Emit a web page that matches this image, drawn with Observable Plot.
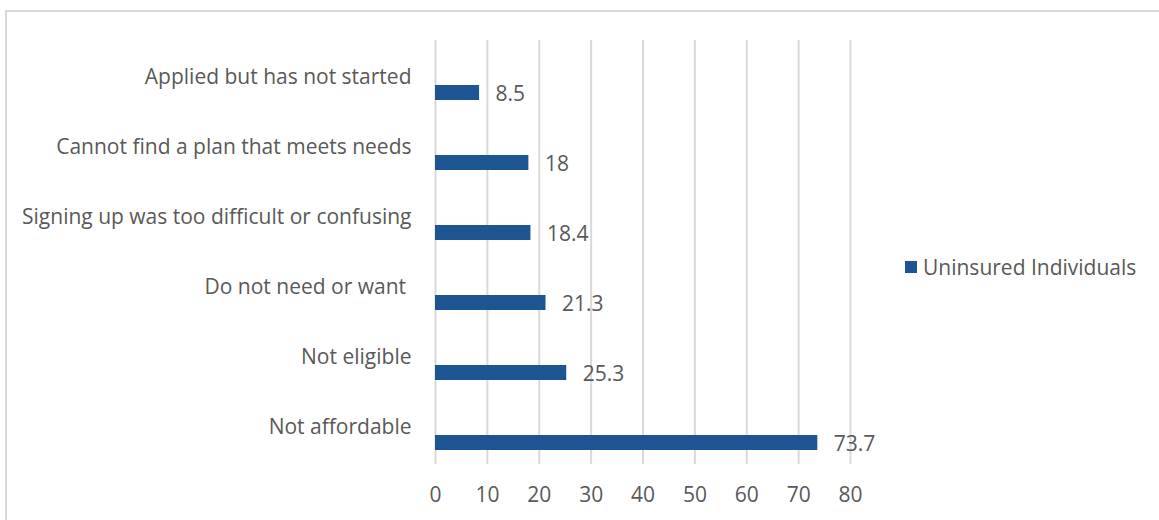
<!DOCTYPE html>
<html>
<head>
<meta charset="utf-8">
<script src="https://cdn.jsdelivr.net/npm/d3@7"></script>
<script src="https://cdn.jsdelivr.net/npm/@observablehq/plot@0.6"></script>
<style>
  html, body { margin: 0; padding: 0; background: #fff; }
  #wrap { position: relative; width: 1159px; height: 520px; overflow: hidden; }
  #frame { position: absolute; left: 5px; top: 10px; width: 1160px; height: 520px;
           border-top: 2px solid #d9d9d9; border-left: 2px solid #d9d9d9; box-sizing: border-box; }
  #chart { position: absolute; left: 0; top: 0; }
  #legend { position: absolute; left: 905px; top: 253px; display: flex; align-items: center;
            font-family: "Open Sans", sans-serif; font-size: 21px; color: #595959; }
  #legend .sw { width: 12px; height: 12px; background: #1d5492; margin-right: 6px; }
</style>
</head>
<body>
<div id="wrap">
  <div id="frame"></div>
  <div id="chart"></div>
  <div id="legend"><div class="sw"></div><span>Uninsured Individuals</span></div>
</div>
<script>
const categories = [
  "Applied but has not started",
  "Cannot find a plan that meets needs",
  "Signing up was too difficult or confusing",
  "Do not need or want ",
  "Not eligible",
  "Not affordable"
];
const values = [8.5, 18, 18.4, 21.3, 25.3, 73.7];
const seriesName = "Uninsured Individuals";
const xTicks = [0, 10, 20, 30, 40, 50, 60, 70, 80];

const data = categories.map((c, i) => ({category: c, value: values[i], series: seriesName}));

const textColor = "#595959";
const barColor = "#1d5492";

const chart = Plot.plot({
  width: 1159,
  height: 520,
  marginLeft: 435,
  marginRight: 309,
  marginTop: 40,
  marginBottom: 56,
  style: {fontFamily: "'Open Sans', sans-serif", fontSize: "21px", color: textColor, background: "transparent"},
  x: {domain: [0, 80], ticks: xTicks, tickSize: 0, tickPadding: 23, label: null, tickFormat: d => String(d)},
  y: {domain: categories, padding: 0, tickSize: 0, tickPadding: 24, label: null},
  marks: [
    Plot.ruleX(xTicks, {stroke: "#d9d9d9", strokeWidth: 2}),
    Plot.barX(data, {x: "value", y: "category", fill: barColor, insetTop: 43, insetBottom: 12}),
    Plot.text(data, {x: "value", y: "category", text: d => String(d.value), textAnchor: "start", dx: 16, dy: 17, fill: textColor, fontSize: 21}),
    Plot.axisY({tickSize: 0, tickPadding: 24, fontSize: 21, fill: textColor, textAnchor: "end", label: null}),
    Plot.axisX({ticks: xTicks, tickSize: 0, tickPadding: 23, fontSize: 21, fill: textColor, label: null, tickFormat: d => String(d)})
  ]
});
document.getElementById("chart").appendChild(chart);
</script>
</body>
</html>
